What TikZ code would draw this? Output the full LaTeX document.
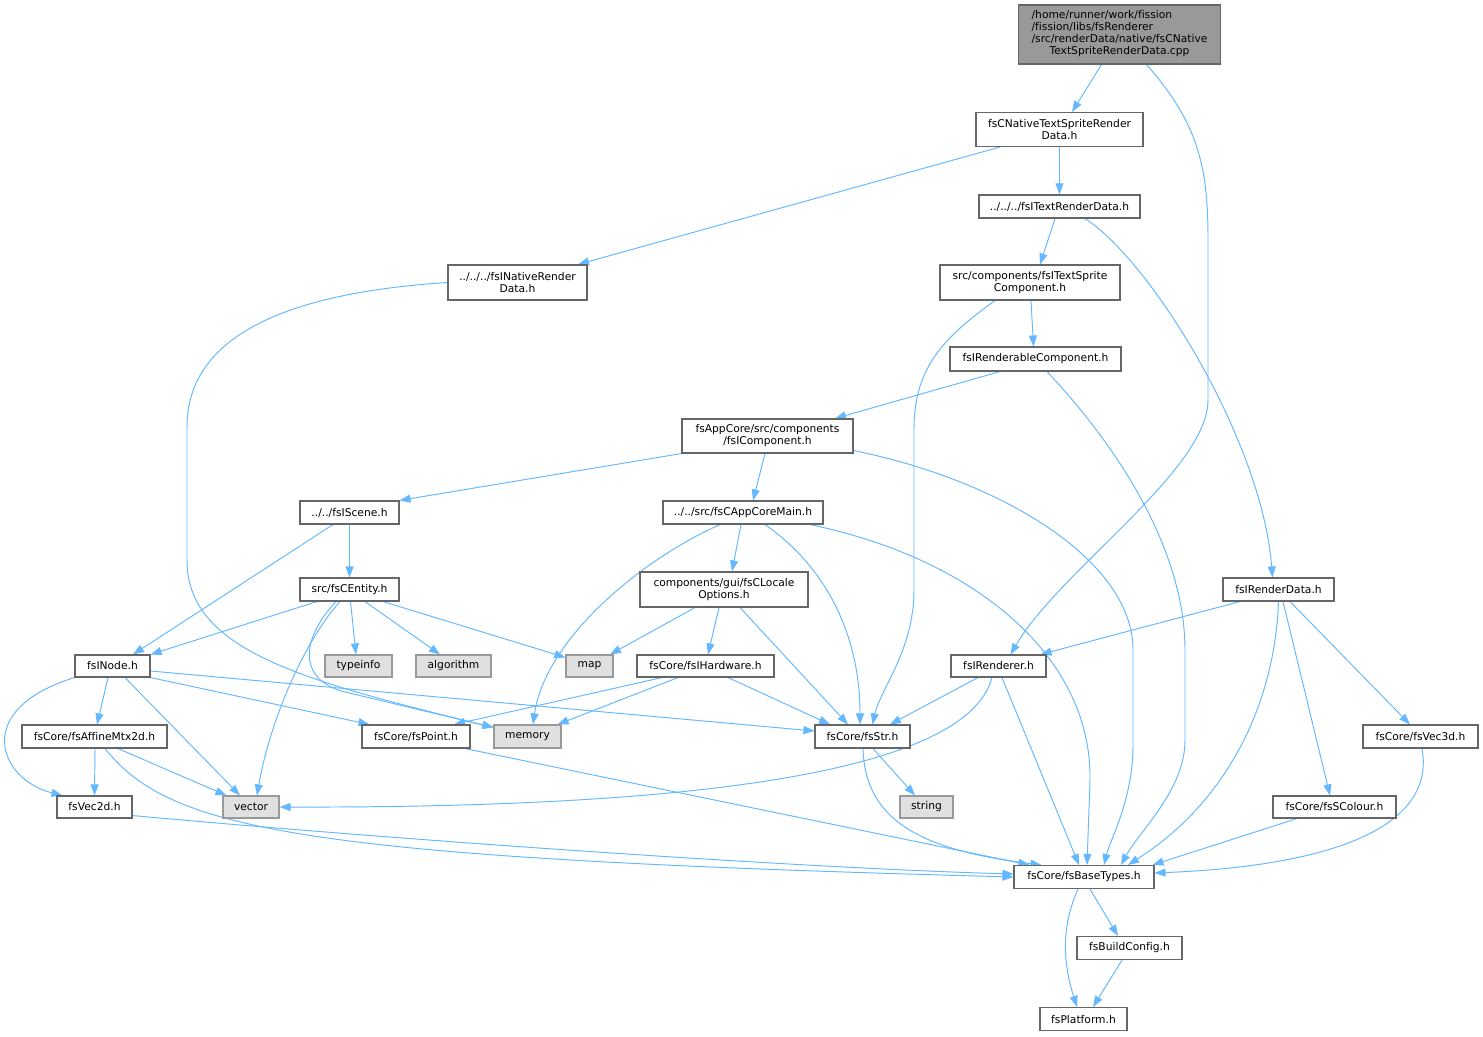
\documentclass[tikz,border=0pt]{standalone}
\usepackage{fontspec}
\setmainfont{DejaVu Sans}[Ligatures=NoCommon]
\usetikzlibrary{arrows.meta}
\definecolor{edgeblue}{HTML}{63B8FF}
\definecolor{boxgray}{HTML}{666666}
\definecolor{sysborder}{HTML}{999999}
\definecolor{sysfill}{HTML}{E0E0E0}
\definecolor{maingray}{HTML}{999999}
\pgfdeclarelayer{background}
\pgfsetlayers{background,main}
\begin{document}
\begin{tikzpicture}[x=1pt,y=-1pt,
  box/.style={draw=boxgray, line width=1.1pt, fill=white, inner sep=0pt, font=\fontsize{10.7}{12}\selectfont, align=center},
  sysbox/.style={box, draw=sysborder, fill=sysfill},
  edge/.style={draw=edgeblue, line width=0.95pt, -{Triangle[length=11pt,width=8pt]}}]
\useasboundingbox (0,0) rectangle (1483,1036);

\node[box, fill=maingray, minimum width=202pt, minimum height=59pt] (main) at (1119.5,34.5)
  {\begin{tabular}{@{}l@{}}/home/runner/work/fission\\/fission/libs/fsRenderer\\/src/renderData/native/fsCNative\\\multicolumn{1}{@{}c@{}}{TextSpriteRenderData.cpp}\end{tabular}};
\node[box, minimum width=167pt, minimum height=34pt] (n1) at (1059.5,129.5) {fsCNativeTextSpriteRender\\Data.h};
\node[box, minimum width=161pt, minimum height=23pt] (n2) at (1059.5,206.5) {../../../fsITextRenderData.h};
\node[box, minimum width=139pt, minimum height=35pt] (n3) at (517.5,282.5) {../../../fsINativeRender\\Data.h};
\node[box, minimum width=180pt, minimum height=35pt] (n4) at (1030,282.5) {src/components/fsITextSprite\\Component.h};
\node[box, minimum width=171pt, minimum height=24pt] (n5) at (1035.5,359) {fsIRenderableComponent.h};
\node[box, minimum width=171pt, minimum height=34pt] (n6) at (767.5,436) {fsAppCore/src/components\\/fsIComponent.h};
\node[box, minimum width=99pt, minimum height=23pt] (n7) at (349.5,512.5) {../../fsIScene.h};
\node[box, minimum width=160pt, minimum height=23pt] (n8) at (743,512.5) {../../src/fsCAppCoreMain.h};
\node[box, minimum width=99pt, minimum height=23pt] (n9) at (349.5,589.5) {src/fsCEntity.h};
\node[box, minimum width=168pt, minimum height=35pt] (n10) at (724,589.5) {components/gui/fsCLocale\\Options.h};
\node[box, minimum width=111pt, minimum height=23pt] (n11) at (1278.5,589.5) {fsIRenderData.h};
\node[box, minimum width=75pt, minimum height=22pt] (n12) at (112.5,666) {fsINode.h};
\node[sysbox, minimum width=67pt, minimum height=22pt] (n13) at (358.5,666) {typeinfo};
\node[sysbox, minimum width=75pt, minimum height=22pt] (n14) at (453.5,666) {algorithm};
\node[sysbox, minimum width=47pt, minimum height=22pt] (n15) at (589.5,666) {map};
\node[box, minimum width=137pt, minimum height=22pt] (n16) at (705.5,666) {fsCore/fsIHardware.h};
\node[box, minimum width=95pt, minimum height=22pt] (n17) at (998.5,666) {fsIRenderer.h};
\node[box, minimum width=145pt, minimum height=23pt] (n18) at (94.5,736.5) {fsCore/fsAffineMtx2d.h};
\node[box, minimum width=108pt, minimum height=23pt] (n19) at (416,736.5) {fsCore/fsPoint.h};
\node[sysbox, minimum width=67pt, minimum height=23pt] (n20) at (527.5,736.5) {memory};
\node[box, minimum width=95pt, minimum height=23pt] (n21) at (862.5,736.5) {fsCore/fsStr.h};
\node[box, minimum width=115pt, minimum height=23pt] (n22) at (1420.5,736.5) {fsCore/fsVec3d.h};
\node[box, minimum width=75pt, minimum height=22pt] (n23) at (94.5,807) {fsVec2d.h};
\node[sysbox, minimum width=56pt, minimum height=22pt] (n24) at (251,807) {vector};
\node[sysbox, minimum width=53pt, minimum height=22pt] (n25) at (926.5,807) {string};
\node[box, minimum width=123pt, minimum height=22pt] (n26) at (1334.5,807) {fsCore/fsSColour.h};
\node[box, minimum width=140pt, minimum height=23pt] (n27) at (1084,877) {fsCore/fsBaseTypes.h};
\node[box, minimum width=105pt, minimum height=23pt] (n28) at (1129.5,948) {fsBuildConfig.h};
\node[box, minimum width=87pt, minimum height=23pt] (n29) at (1083.5,1019) {fsPlatform.h};

\begin{pgfonlayer}{background}
\fill[white] (0,0) rectangle (1483,1036);
\draw[edge] ([xshift=-18pt]main.south) -- ([xshift=12.5pt]n1.north);
\draw[edge] ([xshift=27pt]main.south) .. controls (1200,125) and (1208,170) .. (1208,240) -- (1208,400) .. controls (1208,470) and (1060,570) .. ([xshift=12pt]n17.north);
\draw[edge] (n1.south) -- (n2.north);
\draw[edge] ([xshift=-59.5pt]n1.south) -- ([xshift=60.5pt]n3.north);
\draw[edge] ([xshift=-4.5pt]n2.south) -- ([xshift=10pt]n4.north);
\draw[edge] ([xshift=25.5pt]n2.south) .. controls (1150,260) and (1262,440) .. ([xshift=-6pt]n11.north);
\draw[edge] (n3.west) .. controls (300,292) and (187,330) .. (187,427) -- (187,560) .. controls (187,650) and (300,680) .. ([yshift=-3pt]n20.north west);
\draw[edge] ([xshift=1pt]n4.south) -- ([xshift=-2pt]n5.north);
\draw[edge] ([xshift=-35pt]n4.south) .. controls (940,340) and (914,370) .. (914,430) -- (914,590) .. controls (914,650) and (880,690) .. ([xshift=10pt]n21.north);
\draw[edge] ([xshift=-35.5pt]n5.south) -- ([xshift=67.5pt]n6.north);
\draw[edge] ([xshift=11.5pt]n5.south) .. controls (1130,460) and (1185,560) .. (1185,650) -- (1185,740) .. controls (1185,790) and (1140,830) .. ([xshift=37pt]n27.north);
\draw[edge] (n6.south west) -- (n7.north east);
\draw[edge] ([xshift=-2.5pt]n6.south) -- ([xshift=10pt]n8.north);
\draw[edge] ([yshift=3pt]n6.south east) .. controls (1000,480) and (1133,560) .. (1133,650) -- (1133,745) .. controls (1133,800) and (1110,840) .. ([xshift=20pt]n27.north);
\draw[edge] (n7.south) -- (n9.north);
\draw[edge] ([xshift=-16.5pt]n7.south) -- ([xshift=20.5pt]n12.north);
\draw[edge] ([xshift=-2pt]n8.south) -- ([xshift=8pt]n10.north);
\draw[edge] ([xshift=-23pt]n8.south) .. controls (640,560) and (545,640) .. ([xshift=5.5pt]n20.north);
\draw[edge] ([xshift=22pt]n8.south) .. controls (830,570) and (860,640) .. ([xshift=-2.5pt]n21.north);
\draw[edge] ([xshift=67pt]n8.south) .. controls (980,560) and (1092,660) .. (1090,780) -- ([xshift=3pt]n27.north);
\draw[edge] ([xshift=-32.5pt]n9.south) -- (n12.north east);
\draw[edge] ([xshift=1pt]n9.south) -- ([xshift=-2.5pt]n13.north);
\draw[edge] ([xshift=15.5pt]n9.south) -- ([xshift=-13.5pt]n14.north);
\draw[edge] ([xshift=33.5pt]n9.south) -- ([yshift=-3pt]n15.north west);
\draw[edge] ([xshift=-9.5pt]n9.south) .. controls (305,640) and (270,720) .. ([xshift=6pt]n24.north);
\draw[edge] ([xshift=-13.5pt]n9.south) .. controls (300,640) and (298,680) .. (345,692) -- ([yshift=-3pt]n20.north west);
\draw[edge] ([xshift=-29pt]n10.south) -- ([xshift=20.5pt]n15.north);
\draw[edge] ([xshift=-5pt]n10.south) -- ([xshift=2.5pt]n16.north);
\draw[edge] ([xshift=16pt]n10.south) -- ([xshift=-14.5pt]n21.north);
\draw[edge] ([xshift=-38.5pt]n11.south) -- ([xshift=-6pt]n17.north east);
\draw[edge] (n11.south) .. controls (1275,700) and (1230,800) .. ([xshift=44pt]n27.north);
\draw[edge] ([xshift=4.5pt]n11.south) -- ([xshift=-4.5pt]n26.north);
\draw[edge] ([xshift=11.5pt]n11.south) -- ([xshift=-10.5pt]n22.north);
\draw[edge] ([xshift=-4.5pt]n12.south) -- ([xshift=2.5pt]n18.north);
\draw[edge] (n12.south west) .. controls (-30,710) and (0,780) .. ([xshift=6pt]n23.north west);
\draw[edge] ([xshift=12.5pt]n12.south) -- ([xshift=-11pt]n24.north);
\draw[edge] (n12.south east) -- ([xshift=8pt]n19.north west);
\draw[edge] ([yshift=-5pt]n12.east) -- ([yshift=5.5pt]n21.west);
\draw[edge] ([xshift=-43.5pt]n16.south) -- ([xshift=38pt]n19.north);
\draw[edge] ([xshift=-27.5pt]n16.south) -- ([xshift=-4pt]n20.north east);
\draw[edge] ([xshift=22.5pt]n16.south) -- ([xshift=-32.5pt]n21.north);
\draw[edge] ([xshift=-20.5pt]n17.south) -- ([xshift=27.5pt]n21.north);
\draw[edge] ([xshift=-6.5pt]n17.south) .. controls (965,780) and (650,808) .. (n24.east);
\draw[edge] ([xshift=3.5pt]n17.south) -- ([xshift=-5pt]n27.north);
\draw[edge] ([xshift=0.5pt]n18.south) -- (n23.north);
\draw[edge] ([xshift=23.5pt]n18.south) -- ([xshift=4pt]n24.north west);
\draw[edge] ([xshift=10.5pt]n18.south) .. controls (170,830) and (300,858) .. (n27.west);
\draw[edge] ([xshift=49pt]n19.south) -- ([xshift=16pt]n27.north west);
\draw[edge] ([xshift=10.5pt]n21.south) -- ([xshift=-11.5pt]n25.north);
\draw[edge] ([xshift=0.5pt]n21.south) .. controls (865,820) and (920,850) .. ([xshift=28pt]n27.north west);
\draw[edge] ([xshift=1.5pt]n22.south) .. controls (1435,820) and (1350,865) .. ([yshift=4pt]n27.east);
\draw[edge] ([yshift=3pt]n23.south east) .. controls (400,840) and (800,868) .. ([yshift=3pt]n27.west);
\draw[edge] ([xshift=-37.5pt]n26.south) -- ([xshift=-2pt]n27.north east);
\draw[edge] ([xshift=6pt]n27.south) -- ([xshift=-11.5pt]n28.north);
\draw[edge] ([xshift=-6pt]n27.south) .. controls (1062,925) and (1062,960) .. ([xshift=-6.5pt]n29.north);
\draw[edge] ([xshift=-7.5pt]n28.south) -- ([xshift=9.5pt]n29.north);
\end{pgfonlayer}
\end{tikzpicture}
\end{document}
